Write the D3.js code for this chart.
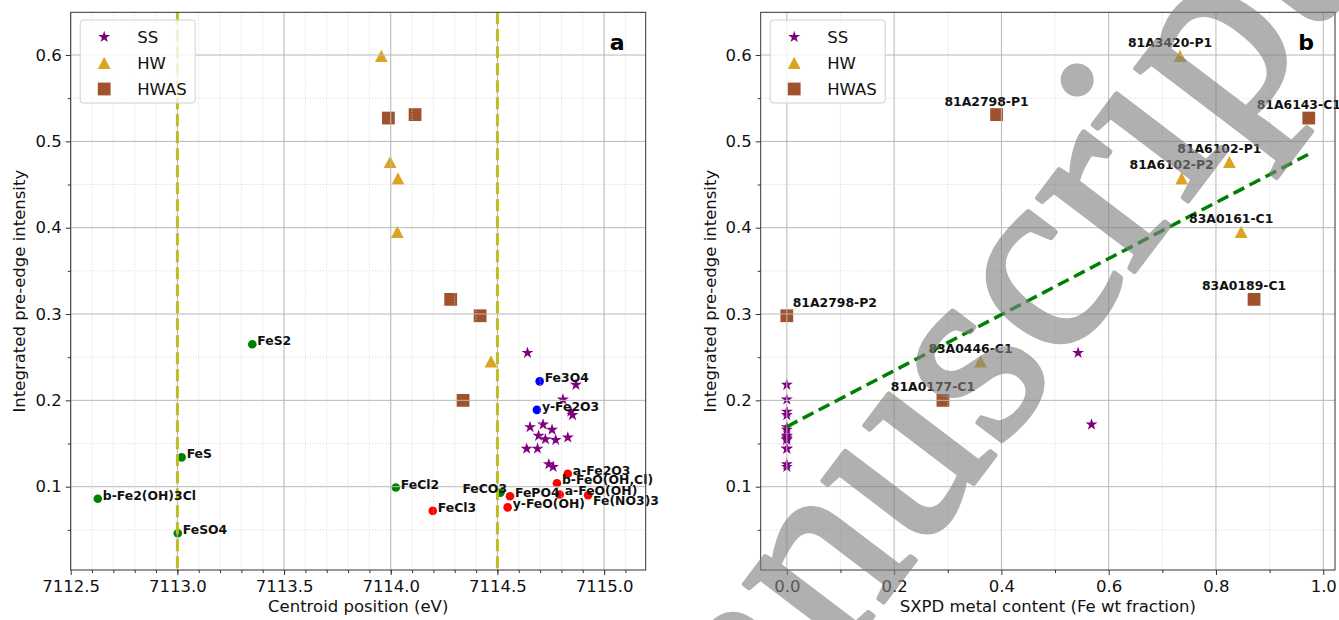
<!DOCTYPE html>
<html lang="en">
<head>
<meta charset="utf-8">
<title>Pre-edge centroid and intensity</title>
<script src="https://cdn.jsdelivr.net/npm/d3@7"></script>
<style>
body { margin: 0; background: #fff; }
svg { font-family: "DejaVu Sans", sans-serif; }
</style>
</head>
<body>
<script>
// SS samples (stars)
var ssCentroid  = [7114.641, 7114.868, 7114.807, 7114.844, 7114.852, 7114.714, 7114.653, 7114.756,
                   7114.693, 7114.830, 7114.725, 7114.773, 7114.637, 7114.688, 7114.741, 7114.761];
var ssIntensity = [0.255, 0.218, 0.201, 0.187, 0.183, 0.172, 0.169, 0.166,
                   0.159, 0.157, 0.155, 0.154, 0.144, 0.144, 0.126, 0.123];
var ssMetal     = [0.543, 0, 0, 0, 0, 0.568, 0, 0, 0, 0, 0, 0, 0, 0, 0, 0];

// HW samples (triangles)
var hwName      = ["81A3420-P1", "81A6102-P1", "81A6102-P2", "83A0161-C1", "83A0446-C1"];
var hwCentroid  = [7113.956, 7113.997, 7114.034, 7114.031, 7114.470];
var hwIntensity = [0.599, 0.476, 0.457, 0.395, 0.245];
var hwMetal     = [0.733, 0.825, 0.736, 0.847, 0.361];

// HWAS samples (squares)
var hwasName      = ["81A2798-P1", "81A6143-C1", "83A0189-C1", "81A2798-P2", "81A0177-C1"];
var hwasCentroid  = [7114.114, 7113.989, 7114.281, 7114.419, 7114.339];
var hwasIntensity = [0.531, 0.527, 0.317, 0.298, 0.200];
var hwasMetal     = [0.391, 0.973, 0.871, 0.0, 0.291];

// reference compounds (panel a)
var refName      = ["FeS2", "FeS", "b-Fe2(OH)3Cl", "FeSO4", "FeCl2", "FeCO3",
                    "FeCl3", "FePO4", "y-FeO(OH)", "a-Fe2O3", "b-FeO(OH,Cl)", "a-FeO(OH)", "Fe(NO3)3",
                    "Fe3O4", "y-Fe2O3"];
var refCentroid  = [7113.351, 7113.020, 7112.627, 7113.002, 7114.024, 7114.514,
                    7114.197, 7114.559, 7114.548, 7114.830, 7114.779, 7114.792, 7114.925,
                    7114.698, 7114.685];
var refIntensity = [0.265, 0.134, 0.086, 0.046, 0.099, 0.093,
                    0.072, 0.089, 0.076, 0.115, 0.104, 0.091, 0.090,
                    0.222, 0.189];
var refGroup     = ["g", "g", "g", "g", "g", "g",
                    "r", "r", "r", "r", "r", "r", "r",
                    "b", "b"];

var edgeLines = [7113.0, 7114.5];
var fitIntercept = 0.1695, fitSlope = 0.3245, fitEnd = 0.973;

var yTicks = [0.1, 0.2, 0.3, 0.4, 0.5, 0.6];
var yMinor = [0.05, 0.15, 0.25, 0.35, 0.45, 0.55];
var xaTicks = [7112.5, 7113.0, 7113.5, 7114.0, 7114.5, 7115.0];
var xaMinor = d3.range(7112.6, 7115.19, 0.1);
var xbTicks = [0.0, 0.2, 0.4, 0.6, 0.8, 1.0];
var xbMinor = [0.1, 0.3, 0.5, 0.7, 0.9];

var groupColour = { g: "#008000", r: "#ff0000", b: "#0000ff" };
var labelShift = { "FeCO3": [-38, 0], "Fe(NO3)3": [5, 10] };

var w = 1339, h = 620;
var plotTop = 12.3, plotBottom = 570;

var svg = d3.select("body").append("svg")
    .attr("width", w)
    .attr("height", h);

var y = d3.scaleLinear().domain([0.0035, 0.6495]).range([plotBottom, plotTop]);
var xa = d3.scaleLinear().domain([7112.5, 7115.195]).range([70.7, 645.7]);
var xb = d3.scaleLinear().domain([-0.0487, 1.0219]).range([760.7, 1335]);

var star = d3.symbol().type(d3.symbolStar).size(45)();
var tri = "M0,-6.2L6.4,6L-6.4,6Z";
var sq = "M-6.4,-6.4H6.4V6.4H-6.4Z";

function drawGrid(x, xTicks, xMinor) {
    var g = svg.append("g");
    g.selectAll(".vminor").data(xMinor).enter().append("line")
        .attr("x1", function(d) { return x(d); }).attr("x2", function(d) { return x(d); })
        .attr("y1", plotTop).attr("y2", plotBottom)
        .attr("stroke", "#cfcfcf").attr("stroke-width", 0.8).attr("stroke-dasharray", "1,1.6");
    g.selectAll(".hminor").data(yMinor).enter().append("line")
        .attr("x1", x.range()[0]).attr("x2", x.range()[1])
        .attr("y1", function(d) { return y(d); }).attr("y2", function(d) { return y(d); })
        .attr("stroke", "#cfcfcf").attr("stroke-width", 0.8).attr("stroke-dasharray", "1,1.6");
    g.selectAll(".vmajor").data(xTicks).enter().append("line")
        .attr("x1", function(d) { return x(d); }).attr("x2", function(d) { return x(d); })
        .attr("y1", plotTop).attr("y2", plotBottom)
        .attr("stroke", "#b8b8b8").attr("stroke-width", 1);
    g.selectAll(".hmajor").data(yTicks).enter().append("line")
        .attr("x1", x.range()[0]).attr("x2", x.range()[1])
        .attr("y1", function(d) { return y(d); }).attr("y2", function(d) { return y(d); })
        .attr("stroke", "#b8b8b8").attr("stroke-width", 1);
}

function drawAxes(x, xTicks, xMinor, xLabel, yLabelX, letter) {
    var x0 = x.range()[0], x1 = x.range()[1];
    svg.append("g").attr("transform", "translate(0," + plotBottom + ")")
        .call(d3.axisBottom(x).tickValues(xTicks).tickFormat(d3.format(".1f")).tickSize(5).tickPadding(5));
    svg.append("g").attr("transform", "translate(0," + plotBottom + ")")
        .call(d3.axisBottom(x).tickValues(xMinor).tickFormat("").tickSize(3));
    svg.append("g").attr("transform", "translate(" + x0 + ",0)")
        .call(d3.axisLeft(y).tickValues(yTicks).tickFormat(d3.format(".1f")).tickSize(5).tickPadding(4));
    svg.append("g").attr("transform", "translate(" + x0 + ",0)")
        .call(d3.axisLeft(y).tickValues(yMinor).tickFormat("").tickSize(3));
    svg.selectAll(".domain").remove();
    svg.selectAll(".tick line").attr("stroke", "#333");
    svg.selectAll(".tick text").attr("font-size", "16.5px").attr("font-family", "DejaVu Sans").attr("fill", "#111");

    svg.append("rect")
        .attr("x", x0).attr("y", plotTop)
        .attr("width", x1 - x0).attr("height", plotBottom - plotTop)
        .attr("fill", "none").attr("stroke", "#333").attr("stroke-width", 1);

    svg.append("text")
        .attr("x", (x0 + x1) / 2).attr("y", 612)
        .attr("text-anchor", "middle").attr("font-size", "16.5px").attr("fill", "#111")
        .text(xLabel);
    svg.append("text")
        .attr("transform", "translate(" + yLabelX + "," + (plotTop + plotBottom) / 2 + ") rotate(-90)")
        .attr("text-anchor", "middle").attr("font-size", "16.5px").attr("fill", "#111")
        .text("Integrated pre-edge intensity");
    svg.append("text")
        .attr("x", x1 - 21).attr("y", 50)
        .attr("text-anchor", "end").attr("font-size", "22px").attr("font-weight", "bold")
        .text(letter);
}

function drawLegend(x0) {
    var lg = svg.append("g").attr("transform", "translate(" + (x0 + 9.5) + ",20)");
    lg.append("rect").attr("width", 115).attr("height", 83).attr("rx", 3)
        .attr("fill", "#fff").attr("fill-opacity", 0.8).attr("stroke", "#d0d0d0");
    var items = [["SS", star, "#800080"], ["HW", tri, "#daa520"], ["HWAS", sq, "#a0522d"]];
    lg.selectAll(".li").data(items).enter().append("path")
        .attr("d", function(d) { return d[1]; })
        .attr("transform", function(d, i) { return "translate(24," + (17 + i * 26) + ")"; })
        .attr("fill", function(d) { return d[2]; });
    lg.selectAll(".lt").data(items).enter().append("text")
        .attr("x", 57).attr("y", function(d, i) { return 23 + i * 26; })
        .attr("font-size", "16.5px").attr("fill", "#111")
        .text(function(d) { return d[0]; });
}

function drawSamples(x, ssX, hwX, hwasX) {
    var g = svg.append("g");
    g.selectAll(".ss").data(ssIntensity).enter().append("path")
        .attr("d", star)
        .attr("transform", function(d, i) { return "translate(" + x(ssX[i]) + "," + y(d) + ")"; })
        .attr("fill", "#800080");
    g.selectAll(".hw").data(hwIntensity).enter().append("path")
        .attr("d", tri)
        .attr("transform", function(d, i) { return "translate(" + x(hwX[i]) + "," + y(d) + ")"; })
        .attr("fill", "#daa520");
    g.selectAll(".hwas").data(hwasIntensity).enter().append("path")
        .attr("d", sq)
        .attr("transform", function(d, i) { return "translate(" + x(hwasX[i]) + "," + y(d) + ")"; })
        .attr("fill", "#a0522d");
}

// panel a
svg.append("g").selectAll("circle").data(refIntensity).enter().append("circle")
    .attr("cx", function(d, i) { return xa(refCentroid[i]); })
    .attr("cy", function(d) { return y(d); })
    .attr("r", 4.3)
    .attr("fill", function(d, i) { return groupColour[refGroup[i]]; });
drawSamples(xa, ssCentroid, hwCentroid, hwasCentroid);
drawGrid(xa, xaTicks, xaMinor);
svg.append("g").selectAll("line").data(edgeLines).enter().append("line")
    .attr("x1", function(d) { return xa(d); }).attr("x2", function(d) { return xa(d); })
    .attr("y1", plotTop).attr("y2", plotBottom)
    .attr("stroke", "#bcbd22").attr("stroke-width", 3).attr("stroke-dasharray", "12,5");
svg.append("g").selectAll("text").data(refName).enter().append("text")
    .attr("x", function(d, i) { return xa(refCentroid[i]) + (labelShift[d] ? labelShift[d][0] : 5); })
    .attr("y", function(d, i) { return y(refIntensity[i]) + (labelShift[d] ? labelShift[d][1] : 1); })
    .attr("font-size", "12.4px").attr("font-weight", "bold").attr("fill", "#111")
    .text(function(d) { return d; });
drawAxes(xa, xaTicks, xaMinor, "Centroid position (eV)", 25, "a");
drawLegend(70.7);

// panel b
drawSamples(xb, ssMetal, hwMetal, hwasMetal);
drawGrid(xb, xbTicks, xbMinor);
svg.append("line")
    .attr("x1", xb(0)).attr("y1", y(fitIntercept))
    .attr("x2", xb(fitEnd)).attr("y2", y(fitIntercept + fitSlope * fitEnd))
    .attr("stroke", "#008000").attr("stroke-width", 3.5).attr("stroke-dasharray", "12,6");
var names = hwName.concat(hwasName);
var metal = hwMetal.concat(hwasMetal);
var inten = hwIntensity.concat(hwasIntensity);
svg.append("g").selectAll("text").data(names).enter().append("text")
    .attr("x", function(d, i) { return xb(metal[i]) + (d == "81A2798-P2" ? 48 : -10); })
    .attr("y", function(d, i) { return y(inten[i]) - 9; })
    .attr("text-anchor", "middle")
    .attr("font-size", "12.4px").attr("font-weight", "bold").attr("fill", "#111")
    .text(function(d) { return d; });
drawAxes(xb, xbTicks, xbMinor, "SXPD metal content (Fe wt fraction)", 716, "b");
drawLegend(760.7);

// watermark over the figure
svg.append("text")
    .attr("transform", "translate(624,944) rotate(-52.8)")
    .attr("font-family", "Liberation Serif")
    .attr("font-size", "265px")
    .attr("fill", "#808080").attr("stroke", "#808080").attr("stroke-width", 5)
    .attr("stroke-linejoin", "round")
    .attr("opacity", 0.62)
    .text("Manuscript");
</script>
</body>
</html>
